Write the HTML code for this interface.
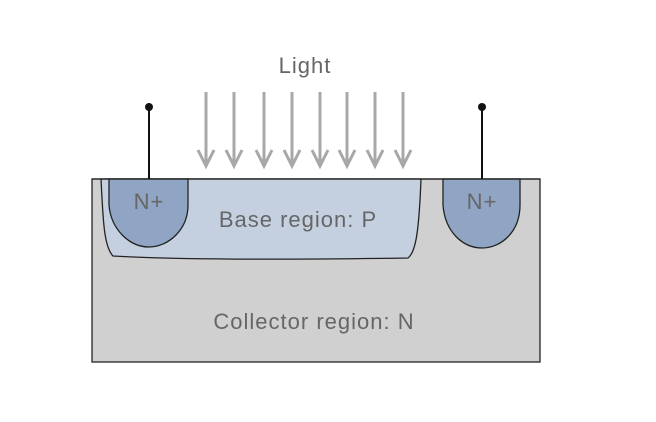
<!DOCTYPE html><html><head><style>body{margin:0;background:#fff}svg{display:block}</style></head><body>
<svg width="656" height="422" xmlns="http://www.w3.org/2000/svg" font-family="Liberation Sans, sans-serif">
<rect x="92" y="179" width="448" height="183" fill="#d0d0d0" stroke="#222" stroke-width="1.3"/>
<path d="M101 179 C103 220 104 247 113 256 Q200 261 408 258 C416 252 419 230 421 179 Z" fill="#c4d0e0" stroke="#222" stroke-width="1.3"/>
<path d="M109 179 L109 205 C111 230 130 247 149 247 C168 247 188 230 188 205 L188 179 Z" fill="#8fa5c3" stroke="#222" stroke-width="1.3"/>
<path d="M443 179 L443 205 C445 232 463 248 482 248 C501 248 520 232 520 205 L520 179 Z" fill="#8fa5c3" stroke="#222" stroke-width="1.3"/>
<line x1="92" y1="179" x2="540" y2="179" stroke="#222" stroke-width="1.3"/>
<line x1="149" y1="107" x2="149" y2="179" stroke="#111" stroke-width="2"/>
<circle cx="149" cy="107" r="4" fill="#111"/>
<line x1="482" y1="107" x2="482" y2="179" stroke="#111" stroke-width="2"/>
<circle cx="482" cy="107" r="4" fill="#111"/>
<g stroke="#a8a8a8" stroke-width="3" fill="none">
<path d="M206 92V164M198 150L206 166L214 150"/>
<path d="M234 92V164M226 150L234 166L242 150"/>
<path d="M264 92V164M256 150L264 166L272 150"/>
<path d="M292 92V164M284 150L292 166L300 150"/>
<path d="M320 92V164M312 150L320 166L328 150"/>
<path d="M347 92V164M339 150L347 166L355 150"/>
<path d="M375 92V164M367 150L375 166L383 150"/>
<path d="M403 92V164M395 150L403 166L411 150"/>
</g>
<g fill="#666" font-size="22" letter-spacing="1">
<text x="305" y="73" text-anchor="middle">Light</text>
<text x="149" y="209" text-anchor="middle">N+</text>
<text x="482" y="209" text-anchor="middle">N+</text>
<text x="298" y="227" text-anchor="middle">Base region: P</text>
<text x="314" y="329" text-anchor="middle">Collector region: N</text>
</g>
</svg></body></html>
